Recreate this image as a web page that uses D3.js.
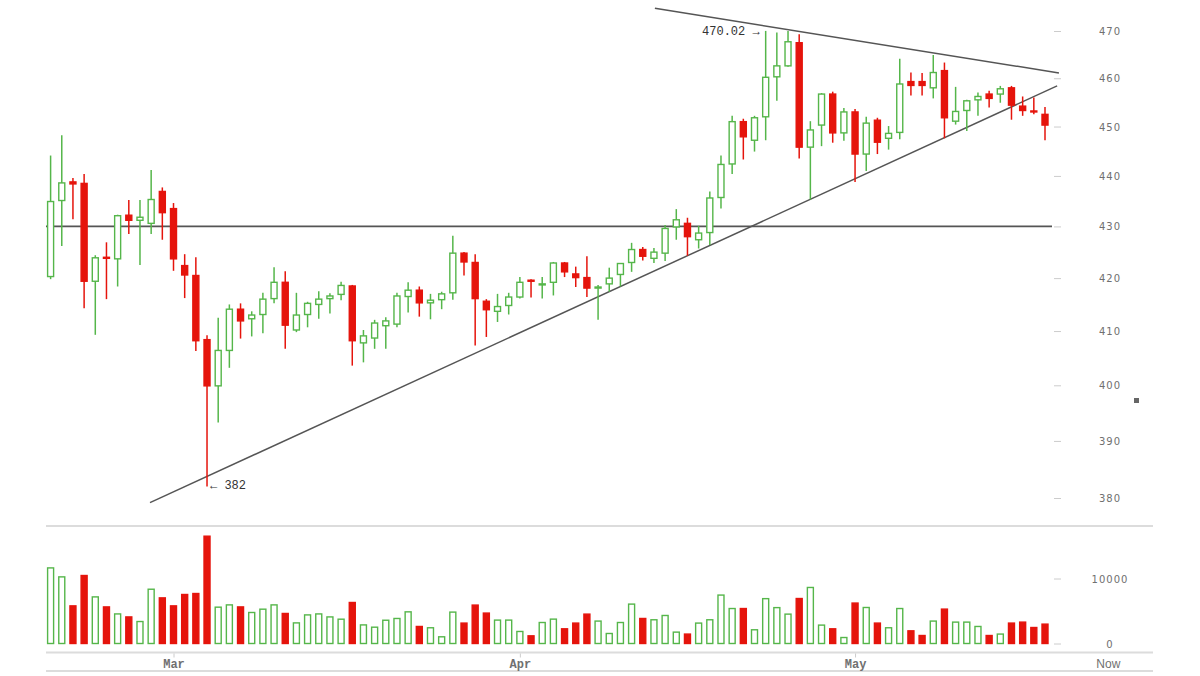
<!DOCTYPE html>
<html><head><meta charset="utf-8">
<script src="https://cdn.jsdelivr.net/npm/d3@7"></script>
<style>body{margin:0;background:#fff}svg{display:block}</style>
</head><body><svg id="c" width="1200" height="676"></svg>
<script>
const dates = ["2016-02-19","2016-02-20","2016-02-21","2016-02-22","2016-02-23","2016-02-24","2016-02-25","2016-02-26","2016-02-27","2016-02-28","2016-02-29",
"2016-03-01","2016-03-02","2016-03-03","2016-03-04","2016-03-05","2016-03-06","2016-03-07","2016-03-08","2016-03-09","2016-03-10","2016-03-11","2016-03-12","2016-03-13","2016-03-14","2016-03-15","2016-03-16","2016-03-17","2016-03-18","2016-03-19","2016-03-20","2016-03-21","2016-03-22","2016-03-23","2016-03-24","2016-03-25","2016-03-26","2016-03-27","2016-03-28","2016-03-29","2016-03-30","2016-03-31",
"2016-04-01","2016-04-02","2016-04-03","2016-04-04","2016-04-05","2016-04-06","2016-04-07","2016-04-08","2016-04-09","2016-04-10","2016-04-11","2016-04-12","2016-04-13","2016-04-14","2016-04-15","2016-04-16","2016-04-17","2016-04-18","2016-04-19","2016-04-20","2016-04-21","2016-04-22","2016-04-23","2016-04-24","2016-04-25","2016-04-26","2016-04-27","2016-04-28","2016-04-29","2016-04-30",
"2016-05-01","2016-05-02","2016-05-03","2016-05-04","2016-05-05","2016-05-06","2016-05-07","2016-05-08","2016-05-09","2016-05-10","2016-05-11","2016-05-12","2016-05-13","2016-05-14","2016-05-15","2016-05-16","2016-05-17","2016-05-18"];
const open  = [420.3,435.1,438.8,438.5,419.4,424.0,423.7,432.2,431.2,430.6,436.9,433.5,422.4,420.5,408.4,399.9,406.4,414.1,412.3,413.1,416.1,419.2,410.2,413.1,415.0,416.1,416.9,418.5,407.8,408.7,411.0,411.3,416.5,417.7,415.3,415.9,417.2,424.8,423.0,415.6,413.7,414.8,416.4,419.6,418.7,419.2,422.9,420.8,420.1,418.1,418.9,420.7,423.0,425.5,423.8,424.8,429.9,430.6,427.4,428.8,435.7,442.4,451.0,447.2,452.0,460.3,462.6,467.5,445.8,450.3,456.7,448.7,453.0,444.4,451.3,447.6,448.8,459.3,459.3,458.0,461.6,451.1,453.3,455.5,456.7,456.7,458.0,454.2,453.2,452.5];
const high  = [444.1,448.2,439.6,440.4,424.4,426.9,432.3,435.2,435.2,441.2,437.7,434.6,424.6,424.0,409.2,412.5,415.0,415.2,413.7,417.2,422.1,421.3,417.2,415.5,417.5,417.1,419.3,418.7,410.2,412.1,412.6,417.2,419.2,418.4,417.0,417.4,428.2,425.0,424.6,416.0,417.0,417.2,420.2,419.8,420.2,423.1,423.1,422.2,424.2,418.7,422.0,422.9,426.8,426.0,425.8,430.3,433.4,431.7,430.1,436.9,444.1,452.2,451.6,452.2,470.02,469.7,470.0,469.3,451.1,456.9,457.2,453.8,453.6,452.0,451.8,450.1,464.1,461.2,461.1,464.9,463.3,458.2,455.5,457.0,457.4,458.4,458.4,456.2,456.0,454.0];
const low   = [419.8,426.2,431.4,414.3,409.3,416.0,418.4,428.5,422.5,428.5,427.4,421.4,416.2,406.3,382.0,393.3,403.2,408.6,409.0,409.6,415.2,406.7,409.8,410.7,412.3,413.3,415.8,403.6,404.2,406.7,406.7,410.7,413.5,412.7,412.2,414.1,415.9,420.5,407.3,408.9,411.7,413.1,416.1,416.3,416.1,416.7,420.2,418.3,416.4,412.1,417.4,418.4,421.2,423.4,422.9,423.3,427.4,424.3,425.7,426.4,433.5,440.4,443.3,444.9,447.2,455.3,462.4,443.5,435.3,446.0,446.7,447.1,438.8,441.0,444.4,445.3,447.4,456.4,456.4,455.8,447.6,450.4,449.1,452.2,453.9,454.9,451.4,452.2,452.5,447.2];
const close = [434.9,438.6,438.4,419.4,423.9,423.8,432.1,431.2,431.8,435.3,432.7,423.7,420.6,408.2,399.9,406.4,414.1,411.9,413.0,416.0,419.2,411.1,413.0,415.2,416.0,416.6,418.6,408.2,409.1,411.5,411.9,416.6,417.7,415.3,415.8,417.0,424.8,423.1,416.1,414.0,414.6,416.4,419.2,419.4,418.9,422.9,421.2,420.1,418.1,418.3,420.0,422.8,425.5,424.2,425.0,429.6,431.3,428.0,428.7,435.6,442.3,451.0,447.9,451.8,460.2,462.6,467.7,445.8,449.3,456.7,448.7,453.0,444.4,450.7,446.8,448.6,458.8,458.5,458.5,461.2,451.8,453.1,455.3,456.2,455.8,457.8,454.4,453.3,453.0,450.3];
const volume = [11630,10250,5790,10460,7170,5630,4550,4090,3380,8350,7020,5790,7540,7690,16510,5590,5940,5630,4770,5280,5940,4620,3170,4400,4550,4090,3740,6310,2860,2510,3580,3850,4870,2620,2420,1030,4830,3140,5910,4680,3600,3600,1850,1180,3230,3750,2260,3140,4520,3450,1540,3230,6060,3850,3650,4310,1750,1450,3140,3650,7450,5380,5380,2110,6900,5520,4520,6920,8620,2830,2260,920,6220,5540,3140,2420,5380,1950,1230,3450,5290,3290,3290,2620,1230,1450,3140,3290,2460,2980];
const priceTicks = [380,390,400,410,420,430,440,450,460,470];
const volumeTicks = [0,10000];
const timeTicks = ["2016-03-01","2016-04-01","2016-05-01","2016-05-23T15:00"];
const timeTickLabels = ["Mar","Apr","May","Now"];
const supportLevel = [430];
const lowerTrendDates = ["2016-02-27T21:30","2016-05-19T02:00"];
const lowerTrendPrices = [379.2,458.4];
const upperTrendDates = ["2016-04-13T02:00","2016-05-19T06:00"];
const upperTrendPrices = [474.9,461.1];
const annotationHigh = ["470.02 \u2192"];
const annotationLow = ["\u2190 382"];

const parse = s => new Date(s.length > 10 ? s + ":00Z" : s + "T00:00:00Z");
const svg = d3.select("#c");
const GREEN = "#55b64a", RED = "#e5140c";
const x = d3.scaleUtc().domain([parse(dates[0]), parse(dates[dates.length-1])]).range([50.6, 1045]);
const y = d3.scaleLog().domain([380,470]).range([498,31]);
const yv = d3.scaleLinear().domain([0,10000]).range([643.5,578.5]);
const L = 46, R = 1153, PR = 1052;

const candles = dates.map((d,i)=>({d:parse(d),o:open[i],h:high[i],l:low[i],c:close[i],v:volume[i],up:close[i]>=open[i]}));

// frame lines
[526, 652.5, 671].forEach(yy => svg.append("line").attr("x1",L).attr("x2",R).attr("y1",yy).attr("y2",yy).attr("stroke","#dcdcdc").attr("stroke-width",2));

// support line
svg.selectAll(".sup").data(supportLevel).join("line").attr("x1",L).attr("x2",PR)
  .attr("y1",d=>y(d)).attr("y2",d=>y(d)).attr("stroke","#555").attr("stroke-width",1.6);

// trend lines
const tl = d3.line().x(d=>x(parse(d[0]))).y(d=>y(d[1]));
svg.append("path").attr("d", tl(d3.zip(lowerTrendDates, lowerTrendPrices))).attr("stroke","#555").attr("stroke-width",1.5).attr("fill","none");
svg.append("path").attr("d", tl(d3.zip(upperTrendDates, upperTrendPrices))).attr("stroke","#555").attr("stroke-width",1.5).attr("fill","none");

// candles
const g = svg.append("g");
g.selectAll(".wick").data(candles).join("line")
  .attr("x1",d=>x(d.d)).attr("x2",d=>x(d.d)).attr("y1",d=>y(d.h)).attr("y2",d=>y(d.l))
  .attr("stroke",d=>d.up?GREEN:RED).attr("stroke-width",1.5);
g.selectAll(".body").data(candles).join("rect")
  .attr("x",d=>x(d.d)-3).attr("width",6)
  .attr("y",d=>y(Math.max(d.o,d.c)))
  .attr("height",d=>Math.max(1, Math.abs(y(d.o)-y(d.c))))
  .attr("fill",d=>d.up?"#fff":RED).attr("stroke",d=>d.up?GREEN:RED).attr("stroke-width",1.4);

// volume
svg.append("g").selectAll("rect").data(candles).join("rect")
  .attr("x",d=>x(d.d)-3).attr("width",6)
  .attr("y",d=>yv(d.v)).attr("height",d=>yv(0)-yv(d.v))
  .attr("fill",d=>d.up?"#fff":RED).attr("stroke",d=>d.up?GREEN:RED).attr("stroke-width",1.4);

// price axis
function styleAxis(sel){
  sel.select(".domain").remove();
  sel.selectAll(".tick line").attr("stroke","#ccc");
  sel.selectAll(".tick text").attr("x",56).attr("text-anchor","middle").attr("dy","0.35em")
    .attr("fill","#707070").style("font-family","'DejaVu Sans',sans-serif").style("font-size","10px").style("letter-spacing","1px");
}
svg.append("g").attr("transform",`translate(1054,0)`).call(d3.axisRight(y).tickValues(priceTicks).tickSize(7).tickFormat(d3.format("d"))).call(styleAxis);
svg.append("g").attr("transform",`translate(1054,0)`).call(d3.axisRight(yv).tickValues(volumeTicks).tickSize(7).tickFormat(d3.format("d"))).call(styleAxis);

// time axis
const ta = svg.append("g").attr("transform","translate(0,652.5)")
  .call(d3.axisBottom(x).tickValues(timeTicks.map(parse)).tickSize(5).tickFormat((d,i)=>timeTickLabels[i]));
ta.select(".domain").remove();
ta.selectAll(".tick line").attr("stroke","#ccc").attr("y1",1).attr("stroke-opacity",(d,i)=>i===timeTickLabels.length-1?0:1);
ta.selectAll(".tick text").attr("y",15).attr("dy","0").attr("fill","#707070")
  .style("font-family",(d,i)=>i===timeTickLabels.length-1?"'Liberation Sans',Arial,sans-serif":"'Liberation Mono','Courier New',monospace")
  .style("font-weight",(d,i)=>i===timeTickLabels.length-1?"normal":"bold")
  .style("font-size","12px");

// annotations
const hiIdx = high.indexOf(d3.max(high)), loIdx = low.indexOf(d3.min(low));
svg.append("text").text(annotationHigh[0]).attr("x",x(candles[hiIdx].d)-6).attr("y",y(high[hiIdx])+4)
  .attr("text-anchor","end").attr("fill","#333").style("font-family","'Liberation Mono','Courier New',monospace").style("font-size","12px");
svg.append("text").text(annotationLow[0]).attr("x",x(candles[loIdx].d)+3).attr("y",y(low[loIdx])+3)
  .attr("text-anchor","start").attr("fill","#333").style("font-family","'Liberation Mono','Courier New',monospace").style("font-size","12px");

// small marker at right
svg.append("rect").attr("x",1134).attr("y",398).attr("width",5).attr("height",5).attr("fill","#666");
</script></body></html>
